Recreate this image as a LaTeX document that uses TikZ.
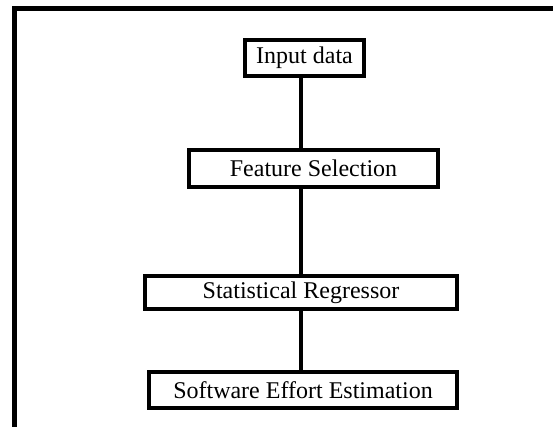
\documentclass[tikz,border=0pt]{standalone}
\usepackage{fontspec}
\setmainfont{Liberation Serif}
\usepackage{tikz}
\usetikzlibrary{positioning}

\begin{document}
\begin{tikzpicture}[
  x=1pt, y=1pt,
  font=\fontsize{24}{28}\selectfont,
  stage/.style={draw, line width=4pt, inner sep=0pt, outer sep=0pt, align=center},
  link/.style={line width=4pt},
  frame/.style={line width=5pt}
]
\useasboundingbox (0,0) rectangle (553,-427);

% outer frame (only left and top edges show)
\draw[frame] (14.5,-427) -- (14.5,-8.5) -- (553,-8.5);

\node[stage, minimum width=119pt, minimum height=36pt] (input) at (304.5,-58) {Input data};

\node[stage, minimum width=249pt, minimum height=37pt, below=74pt of input, xshift=9pt] (feat) {Feature Selection};

\node[stage, minimum width=312pt, minimum height=33pt, below=89pt of feat, xshift=-12.5pt] (regr) {Statistical Regressor};

\node[stage, minimum width=308pt, minimum height=36pt, below=63pt of regr, xshift=2pt] (estim) {Software Effort Estimation};

\draw[link] (input.south -| regr) -- (feat.north -| regr);
\draw[link] (feat.south -| regr) -- (regr.north);
\draw[link] (regr.south) -- (estim.north -| regr);

\end{tikzpicture}
\end{document}
